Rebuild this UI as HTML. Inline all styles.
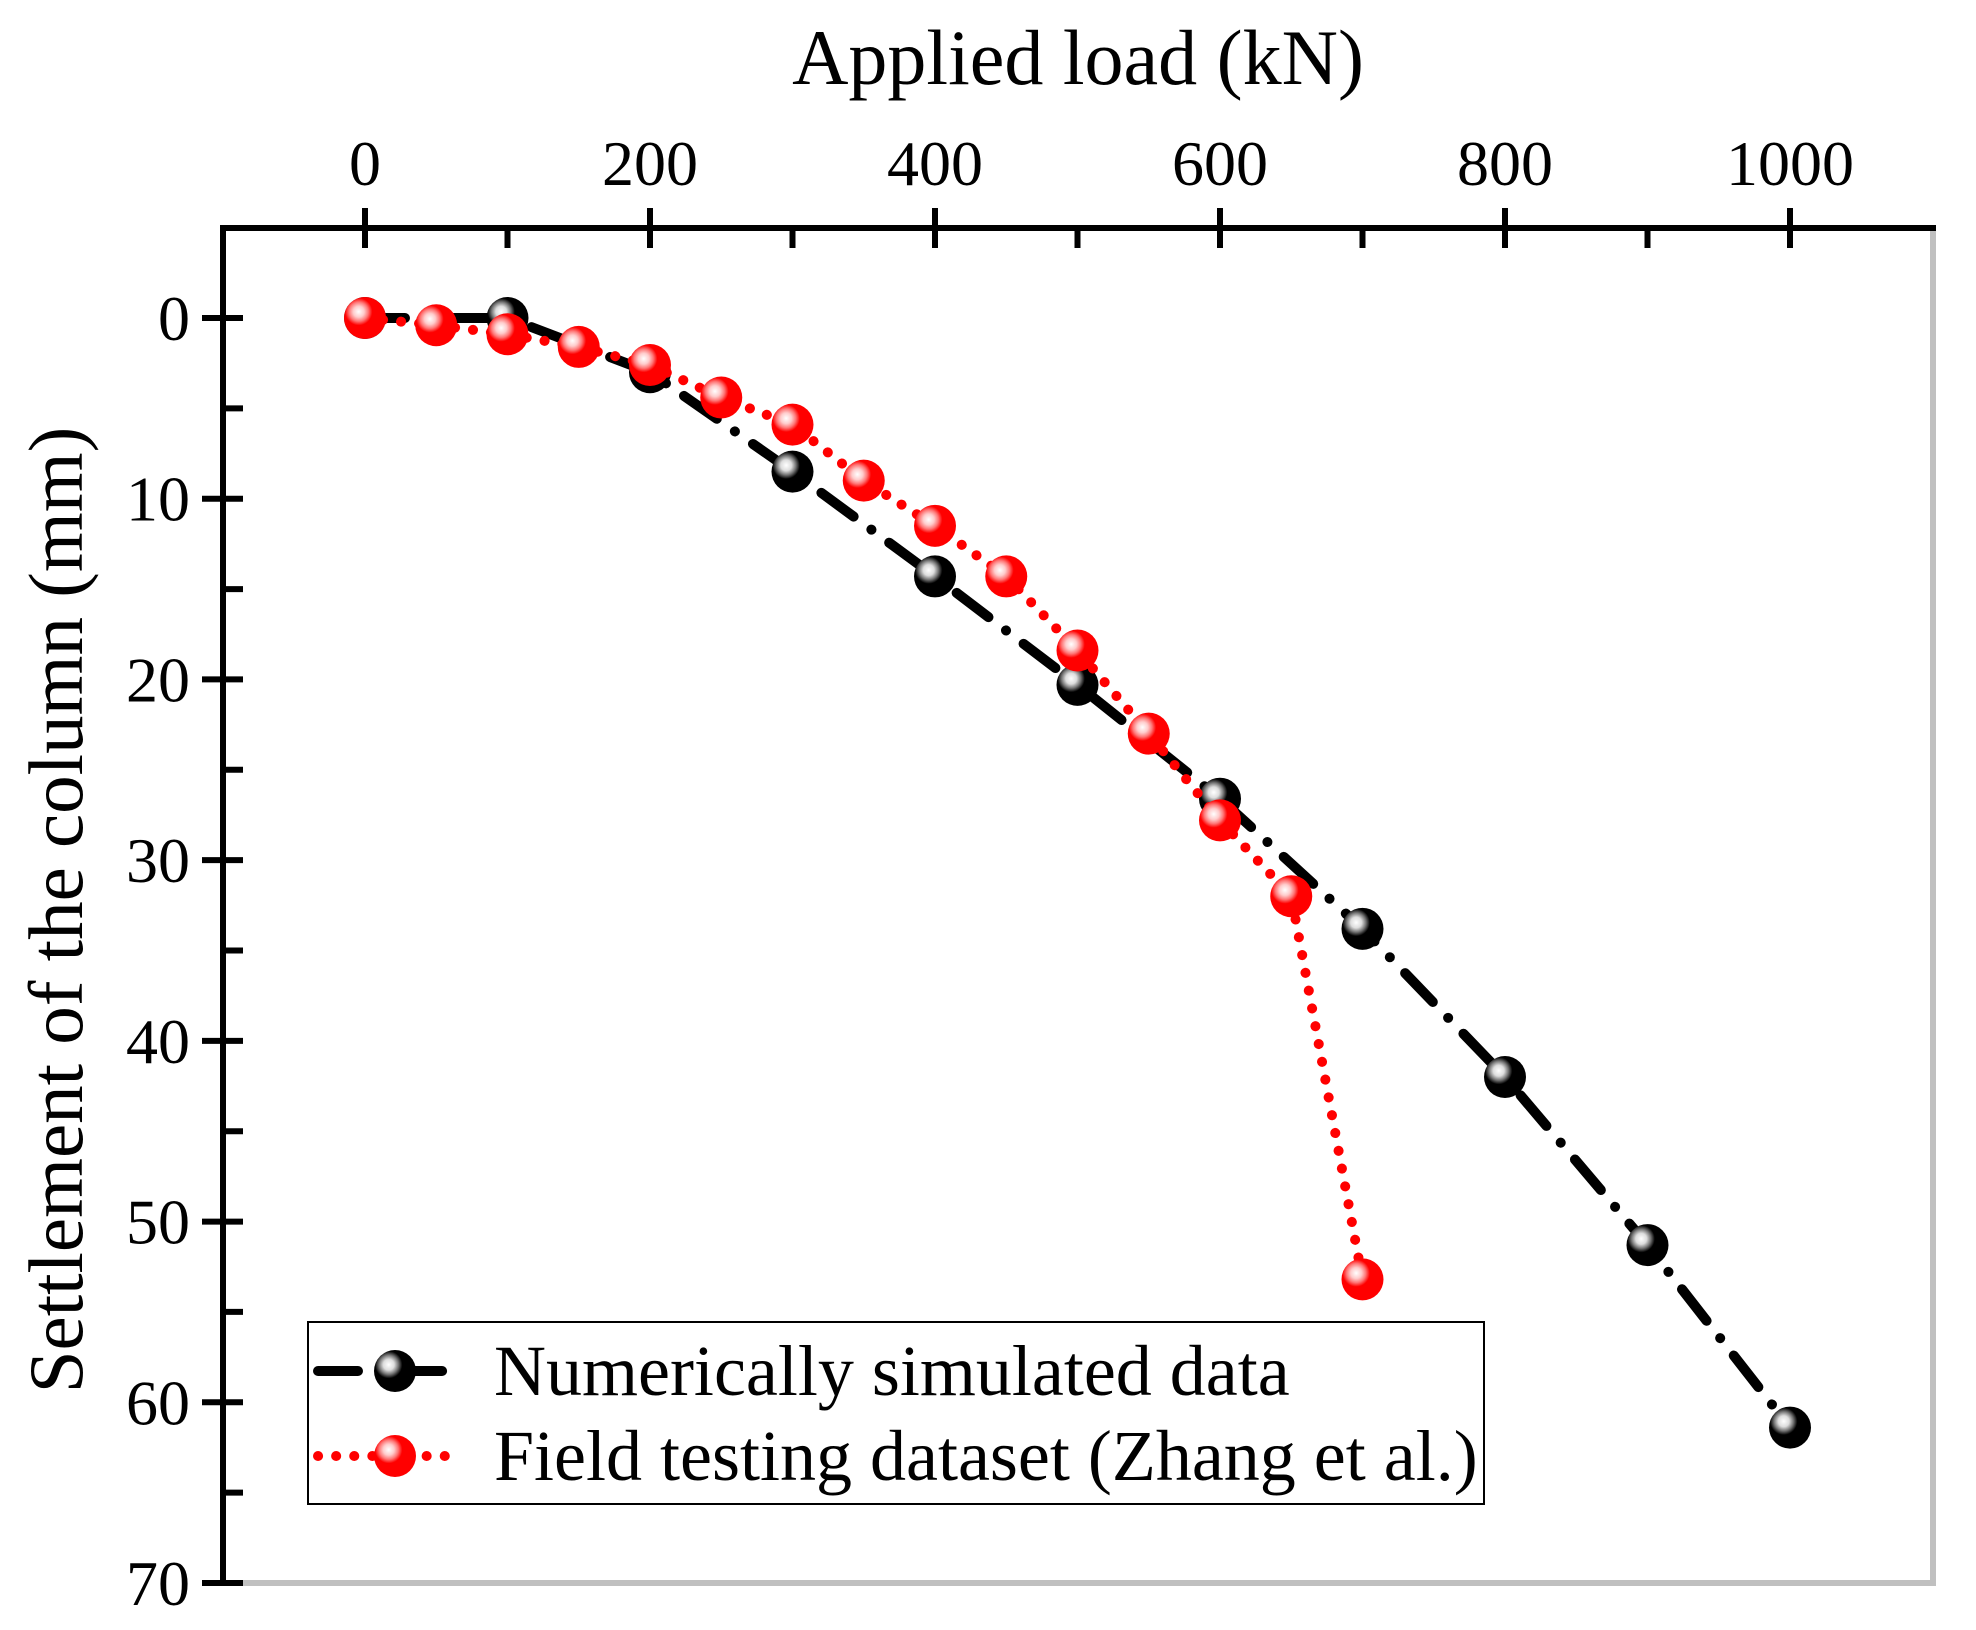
<!DOCTYPE html>
<html><head><meta charset="utf-8"><style>
html,body{margin:0;padding:0;background:#fff;}
svg{display:block;font-family:"Liberation Serif",serif;}
</style></head><body>
<svg id="chart" width="1976" height="1630" viewBox="0 0 1976 1630" xmlns="http://www.w3.org/2000/svg">
<defs>
<radialGradient id="gBlack" cx="0.35" cy="0.35" r="0.65">
<stop offset="0" stop-color="#fff"/><stop offset="0.2" stop-color="#ddd"/><stop offset="0.35" stop-color="#777"/><stop offset="0.5" stop-color="#000"/><stop offset="1" stop-color="#000"/>
</radialGradient>
<radialGradient id="gRed" cx="0.35" cy="0.35" r="0.65">
<stop offset="0" stop-color="#fff"/><stop offset="0.2" stop-color="#fcc"/><stop offset="0.35" stop-color="#f77"/><stop offset="0.5" stop-color="#f00"/><stop offset="1" stop-color="#f00"/>
</radialGradient>
</defs>
<g id="axes"></g>
<g id="series"></g>
<g id="legend"></g>
</svg>
<script>
const xTicks = [0,200,400,600,800,1000];
const xMinor = [100,300,500,700,900];
const yTicks = [0,10,20,30,40,50,60,70];
const yMinor = [5,15,25,35,45,55,65];
const simLoad = [0,100,200,300,400,500,600,700,800,900,1000];
const simSettle = [0,0,3,8.5,14.3,20.3,26.6,33.8,42,51.3,61.4];
const fieldLoad = [0,50,100,150,200,250,300,350,400,450,500,550,600,650,700];
const fieldSettle = [0,0.4,0.9,1.6,2.6,4.4,5.9,9,11.5,14.3,18.4,23,27.8,32,53.2];

const NS='http://www.w3.org/2000/svg';
const L=223,T=228,R=1933,B=1583;
const X=v=>365+(v/1000)*(1790-365);
const Y=v=>318+(v/70)*(1583-318);
function mk(tag,attrs,parent){const e=document.createElementNS(NS,tag);for(const k in attrs)e.setAttribute(k,attrs[k]);parent.appendChild(e);return e;}
const axes=document.getElementById('axes');
let fr=mk('path',{d:`M${L},${B} H${R} V${T}`,fill:'none',stroke:'#c0c0c0','stroke-width':6},axes);


let ax=mk('path',{d:`M${L},${B+2} V${T} H${R+3}`,fill:'none',stroke:'#000','stroke-width':6},axes);


xTicks.forEach(v=>{
  let t=mk('line',{x1:X(v),x2:X(v),y1:T-20,y2:T+20,stroke:'#000','stroke-width':6},axes);
  
  
  let tx=mk('text',{x:X(v),y:185,'font-size':64,'text-anchor':'middle'},axes);tx.textContent=v;
  
  
});
xMinor.forEach(v=>{
  let t=mk('line',{x1:X(v),x2:X(v),y1:T,y2:T+20,stroke:'#000','stroke-width':6},axes);
  
  
});
yTicks.forEach(v=>{
  let t=mk('line',{x1:L-21,x2:L+20,y1:Y(v),y2:Y(v),stroke:'#000','stroke-width':6},axes);
  
  
  let tx=mk('text',{x:190,y:Y(v)+22,'font-size':64,'text-anchor':'end'},axes);tx.textContent=v;
  
  
});
yMinor.forEach(v=>{
  let t=mk('line',{x1:L,x2:L+20,y1:Y(v),y2:Y(v),stroke:'#000','stroke-width':6},axes);
  
  
});
let xt=mk('text',{x:1078,y:84,'font-size':78,'text-anchor':'middle'},axes);xt.textContent='Applied load (kN)';


let yt=mk('text',{x:0,y:0,'font-size':77,'text-anchor':'middle',transform:'translate(82,910) rotate(-90)'},axes);yt.textContent='Settlement of the column (mm)';



const series=document.getElementById('series');
function draw(xs,ys,color,dash,grad,name){
  const d=xs.map((v,i)=>(i?'L':'M')+X(v)+','+Y(ys[i])).join(' ');
  let p=mk('path',{d,fill:'none',stroke:color,'stroke-width':10,'stroke-dasharray':dash,'stroke-linecap':'round','stroke-linejoin':'round'},series);
  
  
  xs.forEach((v,i)=>{
    let c=mk('circle',{cx:X(v),cy:Y(ys[i]),r:21,fill:`url(#${grad})`},series);
    
    
  });
}
draw(simLoad,simSettle,'#000','40 22 0.1 22','gBlack','simulated');
draw(fieldLoad,fieldSettle,'#f00','0.1 18','gRed','field');

const lg=document.getElementById('legend');
let box=mk('rect',{x:308,y:1322,width:1176,height:182,fill:'#fff',stroke:'#000','stroke-width':2},lg);


[['Numerically simulated data','#000','40 22 0.1 22','gBlack',1371],['Field testing dataset (Zhang et al.)','#f00','0.1 18','gRed',1456]].forEach((r,i)=>{
  let l=mk('line',{x1:318,x2:462,y1:r[4],y2:r[4],stroke:r[1],'stroke-width':10,'stroke-dasharray':r[2],'stroke-linecap':'round'},lg);
  
  
  let c=mk('circle',{cx:395,cy:r[4],r:21,fill:`url(#${r[3]})`},lg);
  
  
  let t=mk('text',{x:494,y:r[4]+24,'font-size':72},lg);t.textContent=r[0];
  
  
});
</script>
</body></html>
